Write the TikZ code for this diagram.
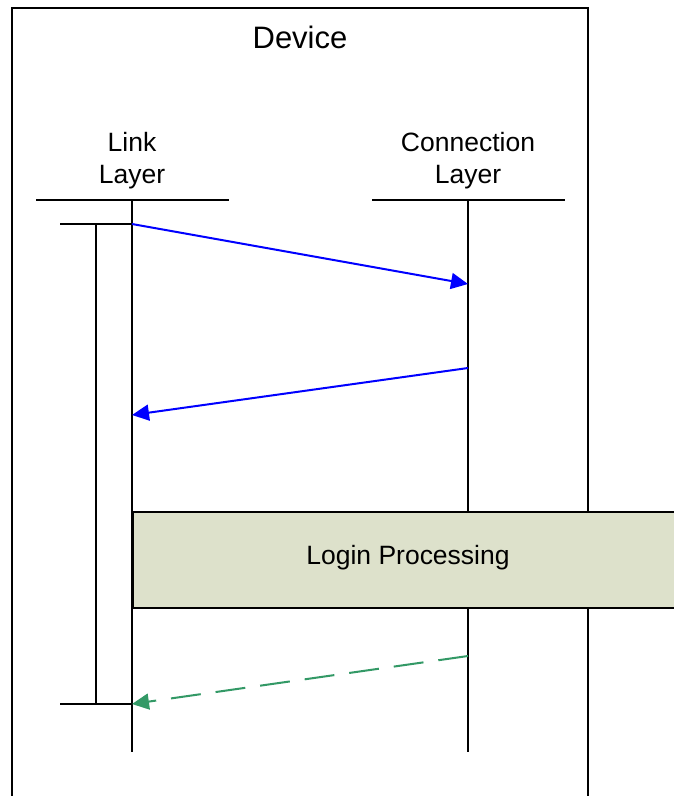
\documentclass[tikz,border=0pt]{standalone}
\usepackage{fontspec}
\setmainfont{Liberation Sans}
\usetikzlibrary{arrows.meta}
\definecolor{loginfill}{RGB}{221,225,203}
\definecolor{replygreen}{RGB}{51,153,102}
\begin{document}
\begin{tikzpicture}[x=1pt,y=-1pt,
  ln/.style={line width=2pt, black},
  lbl/.style={font=\fontsize{26.5}{32}\selectfont, align=center, inner sep=0pt},
  msg/.style={line width=2pt, blue, -{Triangle[length=17pt,width=16pt]}},
  reply/.style={line width=2pt, replygreen, dash pattern=on 30pt off 15pt, -{Triangle[length=17pt,width=16pt]}},
  procbox/.style={draw=black, line width=1.6pt, fill=loginfill}]
\useasboundingbox (0,0) rectangle (674,796);
\clip (0,0) rectangle (674,796);
% device frame
\draw[ln] (12,820) -- (12,8) -- (588,8) -- (588,820);
\node[font=\fontsize{31}{36}\selectfont, inner sep=0pt, anchor=base] (dev) at (300,48) {Device};
% lifeline headers
\node[lbl, anchor=base] (ll) at (132,183) {Link\\Layer};
\node[lbl, anchor=base] (cl) at (468,183) {Connection\\Layer};
\coordinate (llh) at (132,200);
\coordinate (clh) at (468,200);
\draw[ln] (36,200) -- (229,200);
\draw[ln] (372,200) -- (565,200);
\coordinate (lle) at (132,752);
\coordinate (cle) at (468,752);
\draw[ln] (llh) -- (lle);
\draw[ln] (clh) -- (cle);
% activation bracket
\coordinate (b1) at (132,224);
\coordinate (b2) at (132,704);
\coordinate (b1l) at (60,224);
\coordinate (b2l) at (60,704);
\draw[ln] (b1l) -- (b1);
\draw[ln] (b2l) -- (b2);
\draw[ln] (96,224) -- (96,704);
% messages
\coordinate (m1e) at (468,284);
\coordinate (m2s) at (468,368);
\coordinate (m2e) at (132,415);
\coordinate (m3s) at (468,656);
\draw[msg] (b1) -- (m1e);
\draw[msg] (m2s) -- (m2e);
\draw[reply] (m3s) -- (b2);
% login processing
\draw[procbox] (133,512) rectangle (700,608);
\node[font=\fontsize{26.5}{32}\selectfont, inner sep=0pt] (login) at (408,558) {Login Processing};
\end{tikzpicture}
\end{document}
